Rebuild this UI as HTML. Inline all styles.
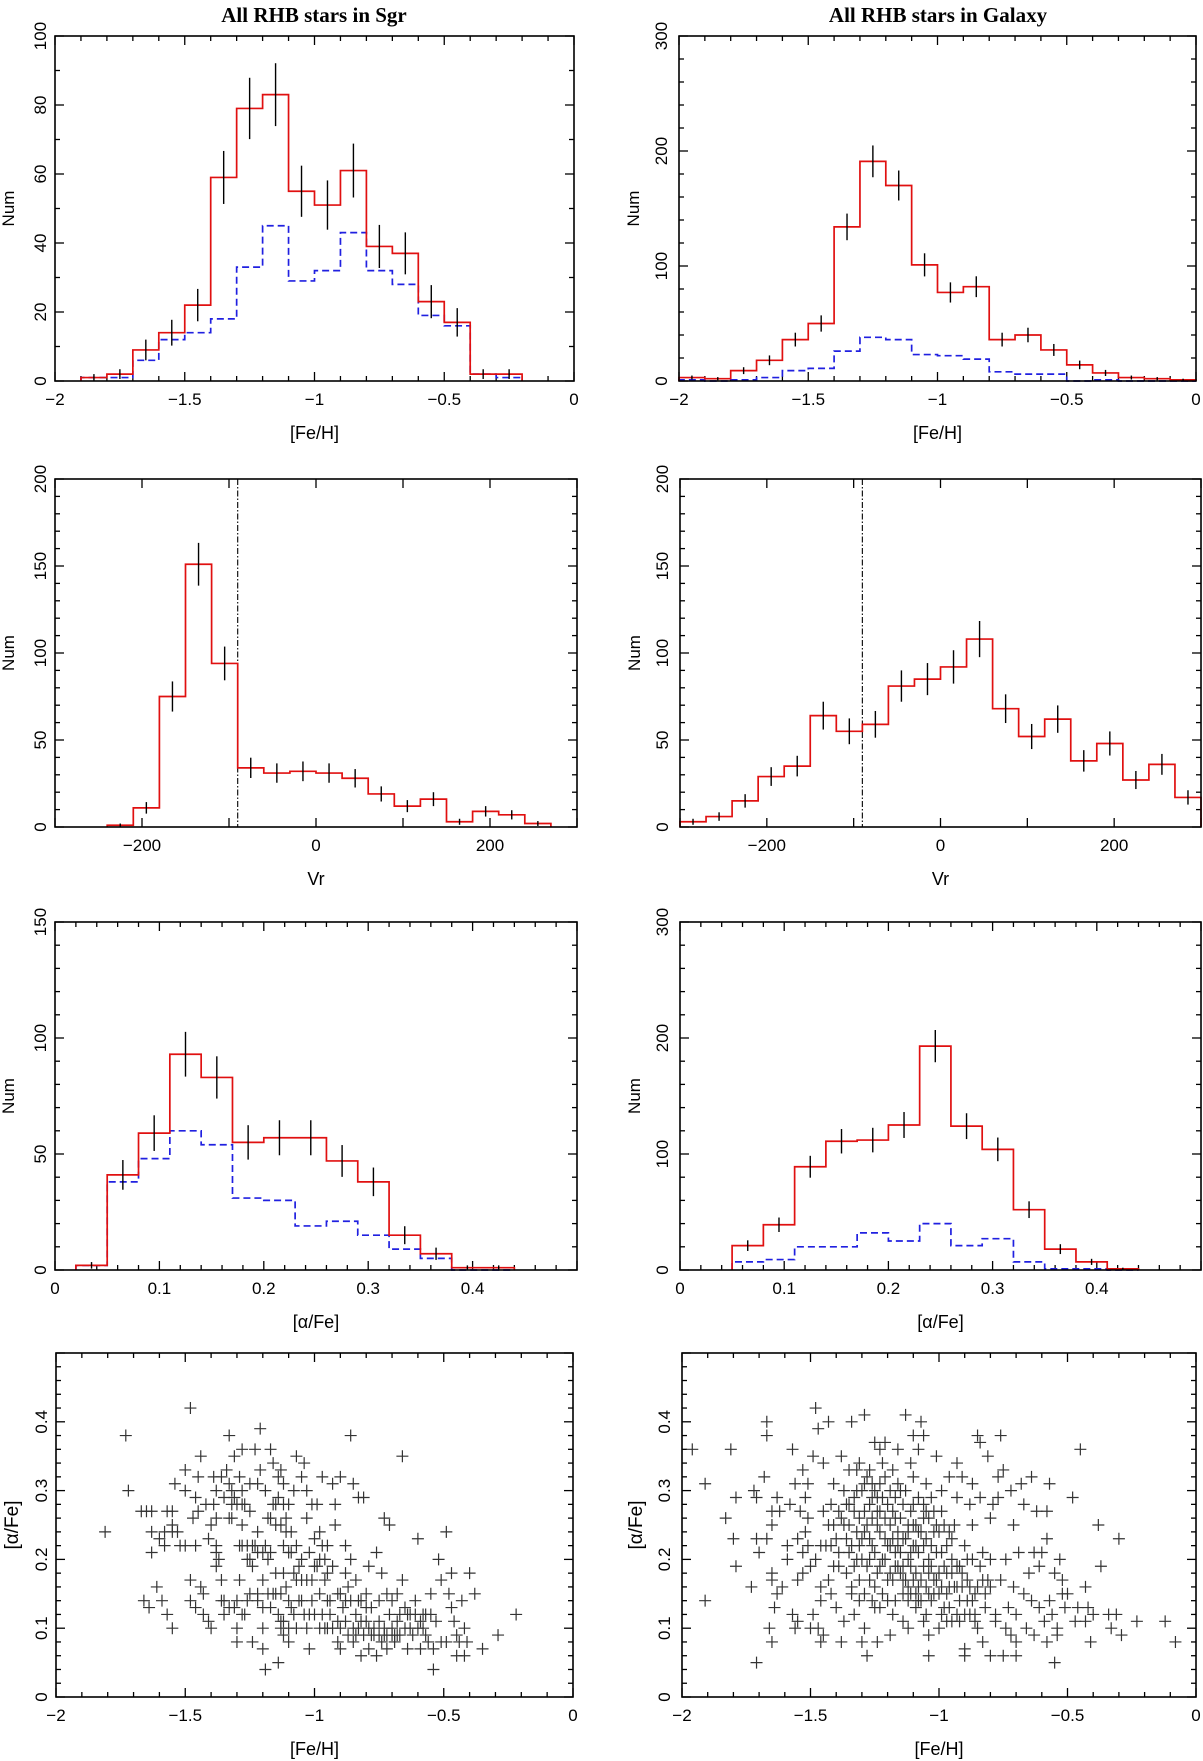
<!DOCTYPE html>
<html><head><meta charset="utf-8"><style>
html,body{margin:0;padding:0;background:#fff}
svg{display:block}
text{font-family:"Liberation Sans",sans-serif;fill:#000}
</style></head><body>
<svg id="fig" width="1203" height="1761" viewBox="0 0 1203 1761" xmlns="http://www.w3.org/2000/svg">
<text x="314" y="22" text-anchor="middle" style="font-family:'Liberation Serif',serif;font-weight:bold;font-size:21px">All RHB stars in Sgr</text>
<text x="938" y="22" text-anchor="middle" style="font-family:'Liberation Serif',serif;font-weight:bold;font-size:21px">All RHB stars in Galaxy</text>
</svg>
<script>
// ---- data ----
const fehEdgesSgr = [-1.9,-1.8,-1.7,-1.6,-1.5,-1.4,-1.3,-1.2,-1.1,-1.0,-0.9,-0.8,-0.7,-0.6,-0.5,-0.4,-0.3,-0.2];
const fehSgrAll = [1,2,9,14,22,59,79,83,55,51,61,39,37,23,17,2,2];
const fehSgrSub = [1,1,6,12,14,18,33,45,29,32,43,32,28,19,16,2,1];
const fehEdgesGal = [-2.0,-1.9,-1.8,-1.7,-1.6,-1.5,-1.4,-1.3,-1.2,-1.1,-1.0,-0.9,-0.8,-0.7,-0.6,-0.5,-0.4,-0.3,-0.2,-0.1,0];
const fehGalAll = [3,2,9,18,36,50,134,191,170,101,77,82,36,40,27,14,7,3,2,1];
const fehGalSub = [1,0,1,3,9,11,26,38,36,23,22,19,8,6,6,0,1,0,0,0];
const vrEdgesSgr = [-240,-210,-180,-150,-120,-90,-60,-30,0,30,60,90,120,150,180,210,240,270];
const vrSgr = [1,11,75,151,94,34,31,32,31,28,19,12,16,3,9,7,2];
const vrEdgesGal = [-300,-270,-240,-210,-180,-150,-120,-90,-60,-30,0,30,60,90,120,150,180,210,240,270,300];
const vrGal = [3,6,15,29,35,64,55,59,81,85,92,108,68,52,62,38,48,27,36,17];
const vrCut = [-90];
const afeEdgesSgr = [0.02,0.05,0.08,0.11,0.14,0.17,0.20,0.23,0.26,0.29,0.32,0.35,0.38,0.41,0.44];
const afeSgrAll = [2,41,59,93,83,55,57,57,47,38,15,7,1,1];
const afeSgrSub = [2,38,48,60,54,31,30,19,21,15,9,5,0,0];
const afeEdgesGal = [0.05,0.08,0.11,0.14,0.17,0.20,0.23,0.26,0.29,0.32,0.35,0.38,0.41,0.44];
const afeGalAll = [21,39,89,111,112,125,193,124,104,52,18,7,1];
const afeGalSub = [7,9,20,20,32,25,40,21,27,7,1,1,0];
const fehTicks = [-2,-1.5,-1,-0.5,0];
const fehTickLabels = ["\u22122","\u22121.5","\u22121","\u22120.5","0"];
const vrTicks = [-200,0,200];
const vrTickLabels = ["\u2212200","0","200"];
const afeTicks = [0,0.1,0.2,0.3,0.4];
const afeTickLabels = ["0","0.1","0.2","0.3","0.4"];
const sgrPts = [[-1.81,.24],[-1.73,.38],[-1.72,.30],[-1.67,.27],[-1.65,.27],[-1.63,.27],[-1.63,.24],[-1.63,.21],[-1.60,.23],[-1.58,.22],[-1.61,.16],[-1.66,.14],[-1.64,.13],[-1.59,.14],[-1.57,.12],[-1.55,.10],[-1.57,.27],[-1.55,.27],[-1.58,.24],[-1.55,.24],[-1.53,.24],[-1.55,.25],[-1.54,.31],[-1.52,.22],[-1.50,.22],[-1.46,.22],[-1.50,.33],[-1.50,.30],[-1.48,.42],[-1.48,.17],[-1.48,.14],[-1.47,.26],[-1.46,.29],[-1.45,.32],[-1.45,.27],[-1.44,.35],[-1.46,.13],[-1.44,.16],[-1.43,.15],[-1.43,.12],[-1.42,.28],[-1.41,.11],[-1.40,.10],[-1.41,.23],[-1.40,.25],[-1.39,.28],[-1.39,.32],[-1.38,.26],[-1.38,.21],[-1.38,.19],[-1.38,.22],[-1.37,.20],[-1.36,.17],[-1.36,.14],[-1.35,.12],[-1.34,.33],[-1.33,.38],[-1.32,.30],[-1.32,.26],[-1.31,.35],[-1.31,.29],[-1.31,.13],[-1.30,.08],[-1.30,.10],[-1.29,.17],[-1.29,.22],[-1.29,.32],[-1.28,.36],[-1.28,.25],[-1.27,.28],[-1.27,.12],[-1.26,.14],[-1.26,.20],[-1.26,.22],[-1.25,.27],[-1.24,.08],[-1.24,.19],[-1.23,.36],[-1.23,.22],[-1.22,.24],[-1.22,.14],[-1.22,.31],[-1.21,.33],[-1.21,.39],[-1.20,.10],[-1.20,.17],[-1.20,.07],[-1.19,.04],[-1.19,.22],[-1.19,.30],[-1.18,.26],[-1.17,.36],[-1.17,.21],[-1.17,.13],[-1.16,.15],[-1.16,.34],[-1.16,.28],[-1.15,.25],[-1.15,.18],[-1.14,.32],[-1.14,.12],[-1.14,.05],[-1.14,.29],[-1.13,.10],[-1.13,.15],[-1.13,.33],[-1.12,.22],[-1.12,.31],[-1.12,.11],[-1.11,.16],[-1.11,.26],[-1.10,.08],[-1.10,.21],[-1.10,.28],[-1.09,.13],[-1.09,.24],[-1.08,.30],[-1.07,.10],[-1.07,.35],[-1.07,.17],[-1.06,.19],[-1.06,.14],[-1.05,.20],[-1.05,.32],[-1.04,.12],[-1.04,.34],[-1.03,.26],[-1.03,.30],[-1.03,.10],[-1.02,.07],[-1.02,.21],[-1.01,.17],[-1.01,.28],[-1.01,.14],[-1.00,.23],[-1.00,.12],[-0.99,.19],[-0.99,.28],[-0.98,.10],[-0.98,.15],[-0.98,.24],[-0.97,.32],[-0.97,.12],[-0.96,.17],[-0.96,.20],[-0.95,.10],[-0.95,.22],[-0.94,.14],[-0.94,.12],[-0.93,.19],[-0.93,.31],[-0.92,.28],[-0.92,.25],[-0.91,.11],[-0.91,.08],[-0.90,.15],[-0.90,.07],[-0.90,.32],[-0.89,.13],[-0.88,.18],[-0.88,.22],[-0.88,.11],[-0.87,.16],[-0.87,.09],[-0.86,.38],[-0.86,.20],[-0.86,.14],[-0.85,.31],[-0.85,.08],[-0.84,.17],[-0.84,.12],[-0.83,.29],[-0.83,.10],[-0.82,.06],[-0.82,.14],[-0.81,.29],[-0.81,.09],[-0.80,.15],[-0.80,.11],[-0.79,.07],[-0.79,.19],[-0.78,.13],[-0.77,.09],[-0.77,.10],[-0.76,.06],[-0.76,.21],[-0.75,.14],[-0.75,.11],[-0.74,.08],[-0.74,.18],[-0.73,.26],[-0.73,.09],[-0.72,.15],[-0.72,.07],[-0.71,.12],[-0.71,.25],[-0.70,.10],[-0.70,.14],[-0.69,.09],[-0.69,.08],[-0.68,.11],[-0.68,.15],[-0.67,.09],[-0.66,.35],[-0.66,.17],[-0.65,.10],[-0.65,.13],[-0.64,.07],[-0.64,.12],[-0.63,.10],[-0.62,.09],[-0.61,.12],[-0.61,.14],[-0.60,.23],[-0.59,.11],[-0.59,.07],[-0.58,.10],[-0.57,.12],[-0.57,.09],[-0.56,.08],[-0.55,.15],[-0.54,.04],[-0.54,.07],[-0.53,.11],[-0.52,.20],[-0.51,.17],[-0.51,.08],[-0.49,.24],[-0.49,.08],[-0.48,.15],[-0.47,.13],[-0.47,.18],[-0.46,.11],[-0.45,.09],[-0.45,.06],[-0.44,.08],[-0.43,.14],[-0.42,.06],[-0.42,.10],[-0.41,.08],[-0.40,.18],[-0.38,.15],[-0.35,.07],[-0.29,.09],[-0.22,.12],
[-1.35,.29],[-1.33,.31],[-1.30,.28],[-1.28,.30],[-1.25,.31],[-1.33,.26],[-1.28,.22],[-1.24,.22],[-1.18,.20],[-1.15,.28],[-1.12,.28],[-1.10,.14],[-1.08,.12],[-1.12,.09],[-1.10,.10],[-1.05,.17],[-1.03,.17],[-0.98,.20],[-0.95,.18],[-0.93,.10],[-0.90,.10],[-0.85,.10],[-0.83,.14],[-0.80,.13],[-0.78,.09],[-0.75,.09],[-0.72,.09],[-0.70,.09],[-0.67,.12],[-0.63,.12],[-0.60,.10],[-0.58,.12],[-0.55,.12],[-1.35,.14],[-1.33,.13],[-1.30,.14],[-1.28,.12],[-1.25,.15],[-1.22,.15],[-1.20,.13],[-1.18,.15],[-1.15,.15],[-1.13,.11],[-1.12,.18],[-1.08,.18],[-1.05,.14],[-1.02,.12],[-1.00,.19],[-0.97,.22],[-0.95,.14],[-1.38,.30],[-1.36,.32],[-1.32,.28],[-1.28,.28],[-1.25,.20],[-1.22,.21],[-1.20,.21],[-1.17,.26],[-1.13,.25],[-1.11,.24],[-1.09,.21],[-1.07,.22],[-0.96,.10],[-0.91,.15],[-0.88,.14],[-0.84,.09],[-0.82,.11],[-0.79,.10],[-0.73,.10],[-0.68,.09]];
const galPts = [[-1.96,.36],[-1.91,.31],[-1.91,.14],[-1.83,.26],[-1.81,.36],[-1.80,.23],[-1.79,.19],[-1.79,.29],[-1.73,.16],[-1.72,.30],[-1.71,.29],[-1.71,.23],[-1.71,.05],[-1.70,.21],[-1.68,.32],[-1.67,.40],[-1.67,.38],[-1.67,.23],[-1.66,.10],[-1.65,.08],[-1.65,.18],[-1.65,.17],[-1.65,.27],[-1.65,.25],[-1.64,.13],[-1.63,.15],[-1.63,.29],[-1.62,.27],[-1.61,.16],[-1.59,.22],[-1.59,.20],[-1.58,.28],[-1.57,.12],[-1.57,.36],[-1.56,.31],[-1.56,.10],[-1.55,.11],[-1.55,.17],[-1.54,.27],[-1.53,.21],[-1.53,.33],[-1.52,.29],[-1.52,.24],[-1.51,.26],[-1.51,.31],[-1.50,.10],[-1.49,.35],[-1.49,.12],[-1.48,.42],[-1.47,.39],[-1.47,.10],[-1.46,.16],[-1.46,.14],[-1.46,.08],[-1.46,.22],[-1.45,.09],[-1.45,.34],[-1.45,.27],[-1.43,.17],[-1.43,.40],[-1.42,.15],[-1.41,.31],[-1.41,.25],[-1.40,.13],[-1.39,.19],[-1.39,.21],[-1.38,.08],[-1.38,.35],[-1.37,.11],[-1.36,.23],[-1.35,.28],[-1.34,.40],[-1.34,.16],[-1.33,.12],[-1.32,.30],[-1.32,.24],[-1.31,.34],[-1.31,.14],[-1.30,.20],[-1.30,.08],[-1.29,.41],[-1.29,.27],[-1.29,.10],[-1.28,.32],[-1.28,.06],[-1.27,.17],[-1.26,.22],[-1.26,.29],[-1.25,.37],[-1.25,.13],[-1.24,.08],[-1.24,.25],[-1.23,.36],[-1.23,.19],[-1.23,.31],[-1.22,.15],[-1.21,.37],[-1.21,.23],[-1.20,.28],[-1.19,.18],[-1.19,.09],[-1.18,.33],[-1.17,.21],[-1.17,.26],[-1.17,.14],[-1.16,.36],[-1.15,.30],[-1.14,.17],[-1.14,.11],[-1.13,.41],[-1.12,.24],[-1.12,.10],[-1.11,.34],[-1.11,.19],[-1.10,.28],[-1.10,.38],[-1.09,.13],[-1.09,.22],[-1.08,.36],[-1.08,.16],[-1.07,.40],[-1.06,.26],[-1.06,.38],[-1.05,.31],[-1.05,.12],[-1.04,.20],[-1.04,.09],[-1.04,.06],[-1.03,.29],[-1.02,.24],[-1.02,.15],[-1.01,.35],[-1.00,.10],[-1.00,.18],[-0.99,.27],[-0.99,.30],[-0.98,.13],[-0.97,.22],[-0.96,.16],[-0.96,.32],[-0.95,.11],[-0.94,.25],[-0.93,.34],[-0.93,.19],[-0.93,.29],[-0.92,.14],[-0.91,.32],[-0.90,.22],[-0.90,.07],[-0.90,.06],[-0.89,.17],[-0.88,.28],[-0.88,.12],[-0.87,.20],[-0.87,.31],[-0.87,.25],[-0.86,.15],[-0.85,.38],[-0.85,.10],[-0.84,.29],[-0.84,.37],[-0.83,.21],[-0.83,.08],[-0.82,.13],[-0.81,.17],[-0.81,.35],[-0.80,.26],[-0.80,.06],[-0.80,.20],[-0.79,.28],[-0.78,.12],[-0.78,.11],[-0.77,.32],[-0.77,.29],[-0.76,.38],[-0.76,.17],[-0.75,.06],[-0.75,.33],[-0.74,.10],[-0.74,.20],[-0.73,.13],[-0.72,.30],[-0.72,.09],[-0.71,.25],[-0.71,.16],[-0.70,.06],[-0.70,.08],[-0.70,.12],[-0.69,.21],[-0.68,.31],[-0.67,.15],[-0.67,.28],[-0.66,.10],[-0.65,.18],[-0.64,.14],[-0.64,.32],[-0.63,.21],[-0.63,.09],[-0.62,.27],[-0.61,.19],[-0.61,.13],[-0.60,.21],[-0.59,.11],[-0.58,.27],[-0.58,.08],[-0.58,.23],[-0.57,.31],[-0.57,.14],[-0.56,.12],[-0.55,.18],[-0.55,.05],[-0.54,.09],[-0.54,.10],[-0.53,.20],[-0.52,.17],[-0.52,.15],[-0.51,.13],[-0.50,.15],[-0.48,.29],[-0.47,.11],[-0.46,.13],[-0.45,.36],[-0.43,.16],[-0.43,.11],[-0.42,.13],[-0.41,.08],[-0.40,.12],[-0.38,.25],[-0.37,.19],[-0.34,.12],[-0.33,.10],[-0.31,.12],[-0.30,.23],[-0.29,.09],[-0.23,.11],[-0.12,.11],[-0.08,.08],
[-1.38,.26],[-1.36,.28],[-1.35,.25],[-1.34,.22],[-1.33,.27],[-1.32,.20],[-1.31,.26],[-1.30,.23],[-1.29,.31],[-1.28,.25],[-1.28,.19],[-1.27,.28],[-1.27,.23],[-1.26,.26],[-1.25,.21],[-1.25,.30],[-1.24,.27],[-1.24,.18],[-1.23,.24],[-1.22,.29],[-1.22,.20],[-1.21,.26],[-1.21,.32],[-1.20,.22],[-1.20,.17],[-1.19,.30],[-1.19,.25],[-1.18,.23],[-1.18,.27],[-1.17,.19],[-1.16,.31],[-1.16,.24],[-1.15,.21],[-1.15,.26],[-1.14,.28],[-1.14,.23],[-1.13,.17],[-1.13,.30],[-1.12,.25],[-1.12,.20],[-1.11,.27],[-1.11,.15],[-1.10,.22],[-1.10,.32],[-1.09,.25],[-1.09,.18],[-1.08,.29],[-1.08,.21],[-1.07,.24],[-1.07,.17],[-1.06,.19],[-1.06,.28],[-1.05,.23],[-1.05,.16],[-1.04,.26],[-1.03,.19],[-1.03,.14],[-1.02,.27],[-1.01,.21],[-1.01,.17],[-1.00,.24],[-0.99,.16],[-0.98,.19],[-0.97,.15],[-0.96,.24],[-0.95,.18],[-0.94,.16],[-0.93,.12],[-0.92,.19],[-0.91,.16],[-0.90,.12],[-0.89,.14],[-0.88,.16],[-0.86,.12],[-0.85,.16],[-0.83,.17],[-0.82,.15],[-1.40,.23],[-1.39,.27],[-1.37,.30],[-1.36,.18],[-1.35,.33],[-1.34,.15],[-1.33,.19],[-1.32,.33],[-1.31,.17],[-1.30,.30],[-1.29,.15],[-1.27,.33],[-1.26,.14],[-1.25,.16],[-1.23,.13],[-1.22,.34],[-1.20,.14],[-1.18,.12],[-1.16,.19],[-1.14,.15],[-1.12,.14],[-1.10,.17],[-1.09,.15],[-1.07,.14],[-1.06,.11],[-1.04,.15],[-1.02,.17],[-0.99,.12],[-0.98,.25],[-0.97,.11],[-0.95,.23],[-1.44,.22],[-1.43,.25],[-1.42,.28],[-1.41,.19],[-1.42,.22],[-1.48,.20],[-1.50,.19],[-1.51,.22],[-1.55,.23],[-1.53,.18],
[-1.37,.25],[-1.35,.21],[-1.33,.29],[-1.31,.22],[-1.29,.24],[-1.27,.20],[-1.26,.31],[-1.24,.29],[-1.23,.27],[-1.21,.20],[-1.19,.22],[-1.17,.29],[-1.16,.22],[-1.15,.18],[-1.13,.23],[-1.11,.21],[-1.10,.25],[-1.08,.24],[-1.06,.22],[-1.05,.27],[-1.03,.22],[-1.01,.25],[-0.99,.21],[-0.97,.18],[-0.95,.20],[-0.93,.16],[-0.91,.18],[-0.89,.20],[-0.87,.14],[-1.18,.17],[-1.14,.19],[-1.12,.16],[-1.08,.14],[-1.04,.18],[-1.00,.15],[-0.96,.13],[-0.92,.11],[-0.86,.11],[-0.84,.19],[-0.80,.16]];

// ---- helpers ----
const NS = "http://www.w3.org/2000/svg";
const svg = document.getElementById("fig");
function mk(tag, attrs, parent) {
  const e = document.createElementNS(NS, tag);
  for (const k in attrs) e.setAttribute(k, attrs[k]);
  (parent || svg).appendChild(e);
  return e;
}
function fmt(v){return Math.round(v*1e6)/1e6;}

function makePanel(p) {
  const g = mk("g", {});
  
  
  const sx = v => p.x0 + (v - p.xmin) / (p.xmax - p.xmin) * (p.x1 - p.x0);
  const sy = v => p.y1 - (v - p.ymin) / (p.ymax - p.ymin) * (p.y1 - p.y0);
  p.sx = sx; p.sy = sy; p.g = g;
  const tg = mk("g", {stroke:"#000","stroke-width":1.3}, g);
  
  
  for (let i = 0; ; i++) {
    const v = fmt(p.xmin + i * p.xminor);
    if (v > p.xmax + 1e-9) break;
    const major = Math.abs(v/p.xmajor - Math.round(v/p.xmajor)) < 1e-6;
    const L = major ? 9 : 5, x = sx(v);
    mk("line", {x1:x, x2:x, y1:p.y1, y2:p.y1-L}, tg);
    mk("line", {x1:x, x2:x, y1:p.y0, y2:p.y0+L}, tg);
  }
  for (let i = 0; ; i++) {
    const v = fmt(p.ymin + i * p.yminor);
    if (v > p.ymax + 1e-9) break;
    const major = Math.abs(v/p.ymajor - Math.round(v/p.ymajor)) < 1e-6;
    const L = major ? 9 : 5, y = sy(v);
    mk("line", {x1:p.x0, x2:p.x0+L, y1:y, y2:y}, tg);
    mk("line", {x1:p.x1, x2:p.x1-L, y1:y, y2:y}, tg);
  }
  p.xticks.forEach((v, i) => {
    const t = mk("text", {x:sx(v), y:p.y1+24, "text-anchor":"middle", "font-size":17}, g);
    
    
    t.textContent = p.xlabels[i];
  });
  p.ylabels.forEach((s, i) => {
    const v = p.yticks[i], y = sy(v), x = p.x0 - p.ytickOff;
    const t = mk("text", {x:x, y:y, transform:`rotate(-90 ${x} ${y})`, "text-anchor":"middle", "font-size":17}, g);
    
    
    t.textContent = s;
  });
  const xt = mk("text", {x:(p.x0+p.x1)/2, y:p.y1+58, "text-anchor":"middle", "font-size":18}, g);
  
  
  xt.textContent = p.xtitle;
  const yx = p.x0 - p.ytitleOff, yy = (p.y0+p.y1)/2;
  const yt = mk("text", {x:yx, y:yy, transform:`rotate(-90 ${yx} ${yy})`, "text-anchor":"middle", "font-size":p.ytitleSize||17}, g);
  
  
  yt.textContent = p.ytitle;
  return p;
}
function frame(p) {
  const r = mk("rect", {x:p.x0, y:p.y0, width:p.x1-p.x0, height:p.y1-p.y0, fill:"none", stroke:"#000", "stroke-width":1.6}, p.g);
  
  
}
function hist(p, edges, vals, color, dash, name) {
  let d = `M${p.sx(edges[0])},${p.sy(0)}`;
  vals.forEach((v, i) => {
    d += ` L${p.sx(edges[i])},${p.sy(v)} L${p.sx(edges[i+1])},${p.sy(v)}`;
  });
  d += ` L${p.sx(edges[edges.length-1])},${p.sy(0)}`;
  const a = {d:d, fill:"none", stroke:color, "stroke-width":1.7};
  if (dash) a["stroke-dasharray"] = "7,4";
  const path = mk("path", a, p.g);
  
  
}
function errs(p, edges, vals) {
  const g = mk("g", {stroke:"#000","stroke-width":1.4}, p.g);
  
  
  vals.forEach((v, i) => {
    if (v < 1) return;
    const c = (edges[i] + edges[i+1]) / 2, s = Math.sqrt(v);
    const l = mk("line", {x1:p.sx(c), x2:p.sx(c), y1:p.sy(Math.max(0,v - s)), y2:p.sy(v + s)}, g);
    
    
  });
}
function vline(p, v) {
  const l = mk("line", {x1:p.sx(v), x2:p.sx(v), y1:p.y0, y2:p.y1, stroke:"#000", "stroke-width":1.1, "stroke-dasharray":"6,2,1.5,2"}, p.g);
  
  
}
function scatter(p, pts) {
  const g = mk("g", {stroke:"#333","stroke-width":1.2}, p.g);
  
  
  pts.forEach(pt => {
    const x = p.sx(pt[0]), y = p.sy(pt[1]);
    const path = mk("path", {d:`M${x-6},${y} H${x+6} M${x},${y-6} V${y+6}`}, g);
    
    
  });
}

const rows = [{y0:36,y1:381},{y0:479,y1:827},{y0:922,y1:1270},{y0:1353,y1:1697}];

// Row 1
let p = makePanel({name:"panel-sgr-feh", x0:55,x1:574,...rows[0], xmin:-2,xmax:0,ymin:0,ymax:100, xmajor:0.5,xminor:0.1,ymajor:20,yminor:10,
  xticks:fehTicks,xlabels:fehTickLabels,yticks:[0,20,40,60,80,100],ylabels:["0","20","40","60","80","100"],xtitle:"[Fe/H]",ytitle:"Num",ytitleOff:41,ytickOff:9});
hist(p, fehEdgesSgr, fehSgrSub, "#2020e0", true, "hist-sgr-feh-subsample");
hist(p, fehEdgesSgr, fehSgrAll, "#e01010", false, "hist-sgr-feh-all");
errs(p, fehEdgesSgr, fehSgrAll); frame(p);

p = makePanel({name:"panel-gal-feh", x0:679,x1:1196,...rows[0], xmin:-2,xmax:0,ymin:0,ymax:300, xmajor:0.5,xminor:0.1,ymajor:100,yminor:20,
  xticks:fehTicks,xlabels:fehTickLabels,yticks:[0,100,200,300],ylabels:["0","100","200","300"],xtitle:"[Fe/H]",ytitle:"Num",ytitleOff:40,ytickOff:12});
hist(p, fehEdgesGal, fehGalSub, "#2020e0", true, "hist-gal-feh-subsample");
hist(p, fehEdgesGal, fehGalAll, "#e01010", false, "hist-gal-feh-all");
errs(p, fehEdgesGal, fehGalAll); frame(p);

// Row 2
p = makePanel({name:"panel-sgr-vr", x0:55,x1:577,...rows[1], xmin:-300,xmax:300,ymin:0,ymax:200, xmajor:100,xminor:100,ymajor:50,yminor:10,
  xticks:vrTicks,xlabels:vrTickLabels,yticks:[0,50,100,150,200],ylabels:["0","50","100","150","200"],xtitle:"Vr",ytitle:"Num",ytitleOff:41,ytickOff:9});
vline(p, vrCut[0]);
hist(p, vrEdgesSgr, vrSgr, "#e01010", false, "hist-sgr-vr");
errs(p, vrEdgesSgr, vrSgr); frame(p);

p = makePanel({name:"panel-gal-vr", x0:680,x1:1201,...rows[1], xmin:-300,xmax:300,ymin:0,ymax:200, xmajor:100,xminor:100,ymajor:50,yminor:10,
  xticks:vrTicks,xlabels:vrTickLabels,yticks:[0,50,100,150,200],ylabels:["0","50","100","150","200"],xtitle:"Vr",ytitle:"Num",ytitleOff:40,ytickOff:12});
vline(p, vrCut[0]);
hist(p, vrEdgesGal, vrGal, "#e01010", false, "hist-gal-vr");
errs(p, vrEdgesGal, vrGal); frame(p);

// Row 3
p = makePanel({name:"panel-sgr-afe", x0:55,x1:577,...rows[2], xmin:0,xmax:0.5,ymin:0,ymax:150, xmajor:0.1,xminor:0.02,ymajor:50,yminor:10,
  xticks:afeTicks,xlabels:afeTickLabels,yticks:[0,50,100,150],ylabels:["0","50","100","150"],xtitle:"[\u03b1/Fe]",ytitle:"Num",ytitleOff:41,ytickOff:9});
hist(p, afeEdgesSgr, afeSgrSub, "#2020e0", true, "hist-sgr-afe-subsample");
hist(p, afeEdgesSgr, afeSgrAll, "#e01010", false, "hist-sgr-afe-all");
errs(p, afeEdgesSgr, afeSgrAll); frame(p);

p = makePanel({name:"panel-gal-afe", x0:680,x1:1201,...rows[2], xmin:0,xmax:0.5,ymin:0,ymax:300, xmajor:0.1,xminor:0.02,ymajor:100,yminor:20,
  xticks:afeTicks,xlabels:afeTickLabels,yticks:[0,100,200,300],ylabels:["0","100","200","300"],xtitle:"[\u03b1/Fe]",ytitle:"Num",ytitleOff:40,ytickOff:12});
hist(p, afeEdgesGal, afeGalSub, "#2020e0", true, "hist-gal-afe-subsample");
hist(p, afeEdgesGal, afeGalAll, "#e01010", false, "hist-gal-afe-all");
errs(p, afeEdgesGal, afeGalAll); frame(p);

// Row 4
p = makePanel({name:"panel-sgr-scatter", x0:56,x1:573,...rows[3], xmin:-2,xmax:0,ymin:0,ymax:0.5, xmajor:0.5,xminor:0.1,ymajor:0.1,yminor:0.02,
  xticks:fehTicks,xlabels:fehTickLabels,yticks:[0,0.1,0.2,0.3,0.4],ylabels:["0","0.1","0.2","0.3","0.4"],xtitle:"[Fe/H]",ytitle:"[\u03b1/Fe]",ytitleOff:38,ytitleSize:19,ytickOff:9});
scatter(p, sgrPts); frame(p);

p = makePanel({name:"panel-gal-scatter", x0:682,x1:1196,...rows[3], xmin:-2,xmax:0,ymin:0,ymax:0.5, xmajor:0.5,xminor:0.1,ymajor:0.1,yminor:0.02,
  xticks:fehTicks,xlabels:fehTickLabels,yticks:[0,0.1,0.2,0.3,0.4],ylabels:["0","0.1","0.2","0.3","0.4"],xtitle:"[Fe/H]",ytitle:"[\u03b1/Fe]",ytitleOff:40,ytitleSize:19,ytickOff:12});
scatter(p, galPts); frame(p);
</script>
</body></html>
